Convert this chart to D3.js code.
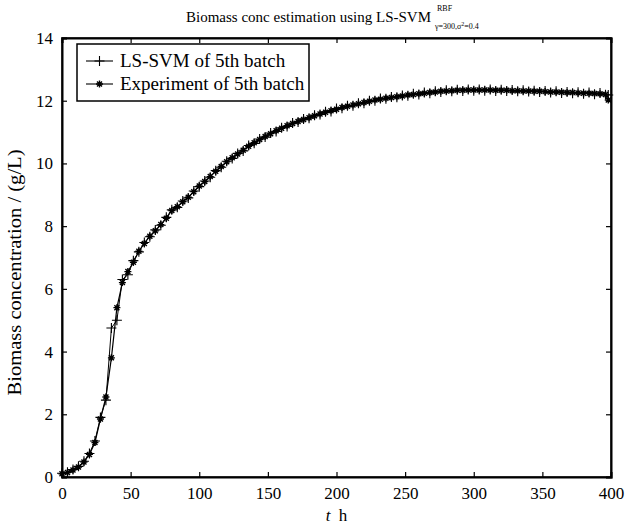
<!DOCTYPE html>
<html>
<head>
<meta charset="utf-8">
<script src="https://cdn.jsdelivr.net/npm/d3@7"></script>
<style>
  body { margin: 0; background: #fff; }
  svg { font-family: "Liberation Serif", "DejaVu Serif", serif; }
</style>
</head>
<body>
<div id="chart"></div>
<script>
// sample times (h)
var times = [0,4,8,12,16,20,24,28,32,36,40,44,48,52,56,60,64,68,72,76,80,84,88,92,96,
  100,104,108,112,116,120,124,128,132,136,140,144,148,152,156,160,164,168,172,176,180,184,188,192,196,
  200,204,208,212,216,220,224,228,232,236,240,244,248,252,256,260,264,268,272,276,280,284,288,292,296,
  300,304,308,312,316,320,324,328,332,336,340,344,348,352,356,360,364,368,372,376,380,384,388,392,396,398];

// experiment of 5th batch
var expValues = [0.10,0.14,0.22,0.32,0.48,0.72,1.10,1.85,2.55,3.80,5.40,6.20,6.55,6.85,7.20,7.45,7.68,7.85,8.05,8.25,8.50,8.62,8.78,8.92,9.10,
  9.28,9.42,9.58,9.75,9.90,10.05,10.18,10.30,10.42,10.55,10.66,10.76,10.86,10.95,11.04,11.12,11.20,11.27,11.34,11.40,11.46,11.52,11.58,11.63,11.68,
  11.73,11.78,11.82,11.86,11.90,11.94,11.98,12.02,12.05,12.08,12.10,12.13,12.15,12.18,12.20,12.22,12.24,12.26,12.28,12.30,12.31,12.32,12.33,12.33,12.34,
  12.34,12.34,12.34,12.34,12.33,12.33,12.33,12.32,12.32,12.31,12.31,12.30,12.30,12.29,12.28,12.28,12.27,12.26,12.26,12.25,12.24,12.24,12.23,12.22,12.20,12.02];

// LS-SVM estimate of 5th batch
var svmValues = [0.12,0.15,0.24,0.34,0.50,0.75,1.15,1.90,2.45,4.75,5.00,6.30,6.45,6.90,7.18,7.48,7.66,7.88,8.03,8.28,8.52,8.60,8.80,8.90,9.12,
  9.26,9.44,9.56,9.77,9.88,10.07,10.16,10.32,10.40,10.57,10.64,10.78,10.84,10.97,11.02,11.14,11.18,11.29,11.32,11.42,11.44,11.54,11.56,11.65,11.66,
  11.75,11.76,11.84,11.84,11.92,11.92,12.00,12.00,12.07,12.06,12.12,12.11,12.17,12.16,12.22,12.20,12.26,12.24,12.30,12.28,12.33,12.30,12.35,12.31,12.36,
  12.32,12.36,12.32,12.36,12.31,12.35,12.31,12.34,12.30,12.33,12.29,12.32,12.28,12.31,12.26,12.30,12.25,12.28,12.24,12.27,12.22,12.26,12.21,12.25,12.19,12.18];

var xTicks = [0,50,100,150,200,250,300,350,400];
var yTicks = [0,2,4,6,8,10,12,14];

var width = 629, height = 527;
var margin = { top: 38, right: 18, bottom: 50, left: 62 };

var svg = d3.select("#chart").append("svg")
    .attr("width", width)
    .attr("height", height);

var x = d3.scaleLinear().domain([0, 400]).range([margin.left, width - margin.right]);
var y = d3.scaleLinear().domain([0, 14]).range([height - margin.bottom, margin.top]);

// frame
svg.append("rect")
    .attr("x", x(0)).attr("y", y(14))
    .attr("width", x(400) - x(0)).attr("height", y(0) - y(14))
    .attr("fill", "none").attr("stroke", "#000").attr("stroke-width", 1.5);

// axes with inward ticks
svg.append("g")
    .attr("transform", "translate(0," + y(0) + ")")
    .call(d3.axisBottom(x).tickValues(xTicks).tickSize(-5).tickPadding(10).tickFormat(d3.format("d")));
svg.append("g")
    .attr("transform", "translate(0," + y(14) + ")")
    .call(d3.axisTop(x).tickValues(xTicks).tickSize(-5).tickFormat(""));
svg.append("g")
    .attr("transform", "translate(" + x(0) + ",0)")
    .call(d3.axisLeft(y).tickValues(yTicks).tickSize(-5).tickPadding(9).tickFormat(d3.format("d")));
svg.append("g")
    .attr("transform", "translate(" + x(400) + ",0)")
    .call(d3.axisRight(y).tickValues(yTicks).tickSize(-5).tickFormat(""));

svg.selectAll(".domain").attr("stroke-width", 2);
svg.selectAll(".tick line").attr("stroke-width", 1.2);
svg.selectAll(".tick text")
    .style("font-family", "'Liberation Serif', serif")
    .style("font-size", "17px")
    .attr("fill", "#000");

var expData = times.map(function(t, i) { return { t: t, v: expValues[i] }; });
var svmData = times.map(function(t, i) { return { t: t, v: svmValues[i] }; });

var line = d3.line()
    .x(function(d) { return x(d.t); })
    .y(function(d) { return y(d.v); });

svg.append("path").datum(svmData)
    .attr("d", line).attr("fill", "none").attr("stroke", "#000").attr("stroke-width", 1);
svg.append("path").datum(expData)
    .attr("d", line).attr("fill", "none").attr("stroke", "#000").attr("stroke-width", 1.2);

var plusPath = "M-5,0H5M0,-5V5";
var starPath = "M-3.5,0H3.5M0,-3.5V3.5M-2.5,-2.5L2.5,2.5M-2.5,2.5L2.5,-2.5";

svg.selectAll(".svm").data(svmData).enter().append("path")
    .attr("class", "svm")
    .attr("transform", function(d) { return "translate(" + x(d.t) + "," + y(d.v) + ")"; })
    .attr("d", plusPath).attr("stroke", "#000").attr("stroke-width", 1.1).attr("fill", "none");
svg.selectAll(".exp").data(expData).enter().append("path")
    .attr("class", "exp")
    .attr("transform", function(d) { return "translate(" + x(d.t) + "," + y(d.v) + ")"; })
    .attr("d", starPath).attr("stroke", "#000").attr("stroke-width", 1.4).attr("fill", "none");

// legend
var lg = svg.append("g").attr("transform", "translate(77,44)");
lg.append("rect").attr("width", 232).attr("height", 57)
    .attr("fill", "#fff").attr("stroke", "#000").attr("stroke-width", 1.5);
var legendItems = [
  { label: "LS-SVM of 5th batch", mark: plusPath, w: 1.1 },
  { label: "Experiment of 5th batch", mark: starPath, w: 1.4 }
];
legendItems.forEach(function(item, i) {
  var yy = 17 + i * 23;
  lg.append("line").attr("x1", 9).attr("x2", 36).attr("y1", yy).attr("y2", yy)
      .attr("stroke", "#000").attr("stroke-width", 1.1);
  lg.append("path").attr("transform", "translate(22.5," + yy + ")")
      .attr("d", item.mark).attr("stroke", "#000").attr("stroke-width", item.w).attr("fill", "none");
  lg.append("text").attr("x", 43).attr("y", yy + 6)
      .style("font-size", "19px").text(item.label);
});

// title
svg.append("text").attr("x", 186).attr("y", 22).style("font-size", "15px")
    .text("Biomass conc estimation using LS-SVM");
svg.append("text").attr("x", 437).attr("y", 11).style("font-size", "8px").text("RBF");
var sub = svg.append("text").attr("x", 435).attr("y", 29).style("font-size", "8px");
sub.append("tspan").text("\u03b3=300,\u03c3");
sub.append("tspan").attr("dy", -3).style("font-size", "6px").text("2");
sub.append("tspan").attr("dy", 3).text("=0.4");

// axis labels
svg.append("text")
    .attr("transform", "translate(21," + ((y(0) + y(14)) / 2 + 15) + ") rotate(-90)")
    .attr("text-anchor", "middle")
    .attr("textLength", 246)
    .attr("lengthAdjust", "spacingAndGlyphs")
    .style("font-size", "18px")
    .text("Biomass concentration / (g/L)");

var xl = svg.append("text").attr("x", x(200)).attr("y", 521).attr("text-anchor", "middle")
    .style("font-size", "17px");
xl.append("tspan").style("font-style", "italic").text("t");
xl.append("tspan").text("\u00a0\u00a0h");
</script>
</body>
</html>
